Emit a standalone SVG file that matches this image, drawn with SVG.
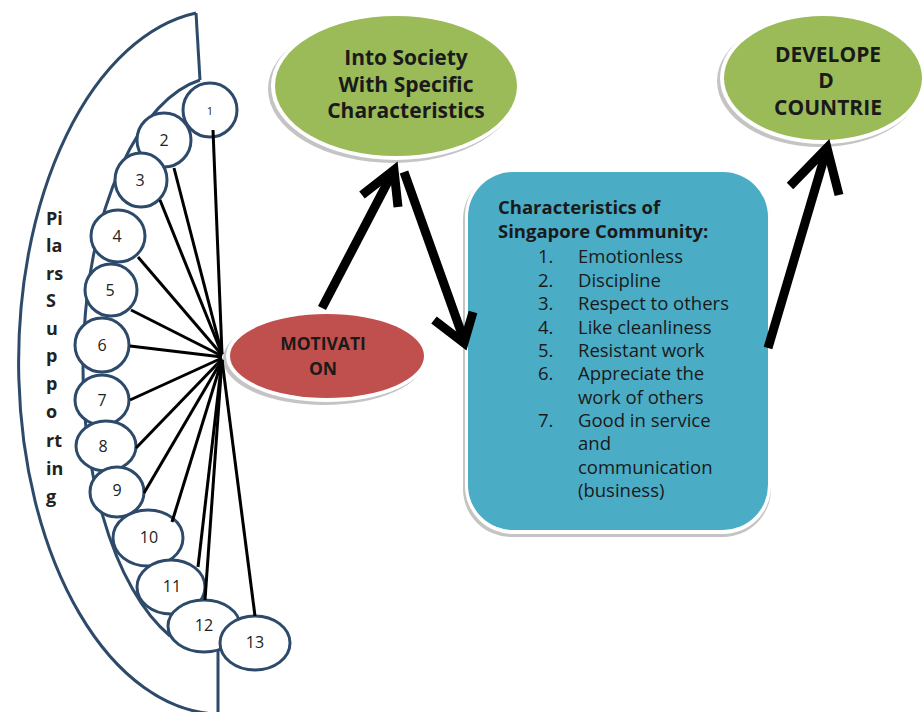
<svg xmlns="http://www.w3.org/2000/svg" width="924" height="712" viewBox="0 0 924 712">
<style>
.pil{fill:none;stroke:#2d4a6b;stroke-width:3}
.cir{fill:#fff;stroke:#2d4a6b;stroke-width:3}
.num{font-family:"Open Sans","Liberation Sans",sans-serif;font-size:16px;fill:#222;text-anchor:middle}
.spoke{stroke:#000;stroke-width:3;fill:none}
.arr{stroke:#000;stroke-width:9;fill:none;stroke-linejoin:miter;stroke-miterlimit:10}
.sh{fill:#c4c4c4}
.rim{fill:#fff}
.green{fill:#9bbb59}
.red{fill:#c0504d}
.blue{fill:#4bacc6}
.bt{font-family:"Open Sans","Liberation Sans",sans-serif;font-weight:bold;fill:#1a1a1a;text-anchor:middle}
.pt{font-family:"Open Sans","Liberation Sans",sans-serif;font-weight:bold;font-size:18px;fill:#222}
.lt{font-family:"Open Sans","Liberation Sans",sans-serif;font-size:18.5px;fill:#1a1a1a}
</style>
<g id="pillars">
<path class="pil" d="M196,13 A203,352 0 0 0 215,714"/>
<path class="pil" d="M196,13 L200,80"/>
<path class="pil" d="M200,80 A138,290 0 0 0 170,636"/>
<path class="pil" d="M218,650 L218,712"/>
<g class="pt">
<text x="46" y="225">Pi</text>
<text x="46" y="252">la</text>
<text x="46" y="280">rs</text>
<text x="46" y="307">S</text>
<text x="46" y="335">u</text>
<text x="46" y="362">p</text>
<text x="46" y="390">p</text>
<text x="46" y="418">o</text>
<text x="46" y="447">rt</text>
<text x="46" y="475">in</text>
<text x="46" y="503">g</text>
</g>
</g>
<g id="circles">
<g id="c1"><ellipse class="cir" cx="210" cy="110" rx="27" ry="27"/><text class="num" x="210" y="115" style="font-size:11px">1</text></g>
<g id="c2"><ellipse class="cir" cx="164" cy="140" rx="27" ry="27"/><text class="num" x="164" y="146">2</text></g>
<g id="c3"><ellipse class="cir" cx="141" cy="180" rx="26" ry="27"/><text class="num" x="140" y="186">3</text></g>
<g id="c4"><ellipse class="cir" cx="118" cy="236" rx="27" ry="26"/><text class="num" x="117" y="242">4</text></g>
<g id="c5"><ellipse class="cir" cx="111" cy="290" rx="26" ry="26"/><text class="num" x="110" y="296">5</text></g>
<g id="c6"><ellipse class="cir" cx="102" cy="345" rx="27" ry="27"/><text class="num" x="102" y="351">6</text></g>
<g id="c7"><ellipse class="cir" cx="102" cy="400" rx="27" ry="25"/><text class="num" x="102" y="406">7</text></g>
<g id="c8"><ellipse class="cir" cx="106" cy="446" rx="30" ry="25"/><text class="num" x="103" y="452">8</text></g>
<g id="c9"><ellipse class="cir" cx="117" cy="492" rx="27" ry="25"/><text class="num" x="117" y="496">9</text></g>
<g id="c10"><ellipse class="cir" cx="148" cy="538" rx="35" ry="28"/><text class="num" x="149" y="543">10</text></g>
<g id="c11"><ellipse class="cir" cx="171" cy="587" rx="34" ry="27"/><text class="num" x="172" y="592">11</text></g>
<g id="c12"><ellipse class="cir" cx="204" cy="626" rx="36" ry="26"/><text class="num" x="204" y="631">12</text></g>
<g id="c13"><ellipse class="cir" cx="255" cy="643" rx="35" ry="27"/><text class="num" x="255" y="648">13</text></g>
</g>
<g id="motivation">
<ellipse class="sh" cx="324" cy="359" rx="101" ry="46"/>
<ellipse class="rim" cx="327" cy="356" rx="101" ry="46"/>
<ellipse class="red" cx="327" cy="356" rx="97" ry="42"/>
<text class="bt" x="323" y="350" font-size="17.5">MOTIVATI</text>
<text class="bt" x="323" y="375" font-size="17.5">ON</text>
</g>
<g id="society">
<ellipse class="sh" cx="393" cy="89" rx="125" ry="74"/>
<ellipse class="rim" cx="396" cy="86" rx="125" ry="74"/>
<ellipse class="green" cx="396" cy="86" rx="121" ry="70"/>
<text class="bt" x="406" y="65" font-size="21">Into Society</text>
<text class="bt" x="406" y="92" font-size="21">With Specific</text>
<text class="bt" x="406" y="118" font-size="21">Characteristics</text>
</g>
<g id="developed">
<ellipse class="sh" cx="820" cy="81" rx="103" ry="66"/>
<ellipse class="rim" cx="823" cy="78" rx="103" ry="66"/>
<ellipse class="green" cx="823" cy="78" rx="99" ry="62"/>
<text class="bt" x="828" y="62" font-size="21">DEVELOPE</text>
<text class="bt" x="826" y="88" font-size="21">D</text>
<text class="bt" x="828" y="115" font-size="21">COUNTRIE</text>
</g>
<g id="characteristics">
<rect class="sh" x="463" y="171" width="308" height="366" rx="48"/>
<rect class="rim" x="465" y="168" width="306" height="366" rx="48"/>
<rect class="blue" x="468" y="172" width="300" height="358" rx="45"/>
<text class="lt" x="498" y="214" font-weight="bold" font-size="18">Characteristics of</text>
<text class="lt" x="498" y="238" font-weight="bold" font-size="18">Singapore Community:</text>
<g class="lt">
<text x="538" y="263">1.</text><text x="578" y="263">Emotionless</text>
<text x="538" y="287">2.</text><text x="578" y="287">Discipline</text>
<text x="538" y="310">3.</text><text x="578" y="310">Respect to others</text>
<text x="538" y="334">4.</text><text x="578" y="334">Like cleanliness</text>
<text x="538" y="357">5.</text><text x="578" y="357">Resistant work</text>
<text x="538" y="380">6.</text><text x="578" y="380">Appreciate the</text>
<text x="578" y="404">work of others</text>
<text x="538" y="427">7.</text><text x="578" y="427">Good in service</text>
<text x="578" y="450">and</text>
<text x="578" y="474">communication</text>
<text x="578" y="497">(business)</text>
</g>
</g>
<g id="connectors">
<path class="spoke" d="M213,130 L222,354"/>
<path class="spoke" d="M174,168 L222,354"/>
<path class="spoke" d="M160,200 L222,354"/>
<path class="spoke" d="M138,257 L222,355"/>
<path class="spoke" d="M131,310 L222,356"/>
<path class="spoke" d="M130,346 L222,357"/>
<path class="spoke" d="M130,400 L222,358"/>
<path class="spoke" d="M136,448 L222,359"/>
<path class="spoke" d="M144,493 L222,360"/>
<path class="spoke" d="M172,522 L222,360"/>
<path class="spoke" d="M198,567 L222,360"/>
<path class="spoke" d="M205,600 L222,360"/>
<path class="spoke" d="M255,616 L222,360"/>
<path class="arr" d="M322,308 L393,172"/>
<path class="arr" d="M362,195 L394,170 L398,207"/>
<path class="arr" d="M404,172 L464,340"/>
<path class="arr" d="M434,320 L464,343 L473,312"/>
<path class="arr" d="M768,348 L826,152"/>
<path class="arr" d="M790,186 L827,148 L839,195"/>
</g>
</svg>
